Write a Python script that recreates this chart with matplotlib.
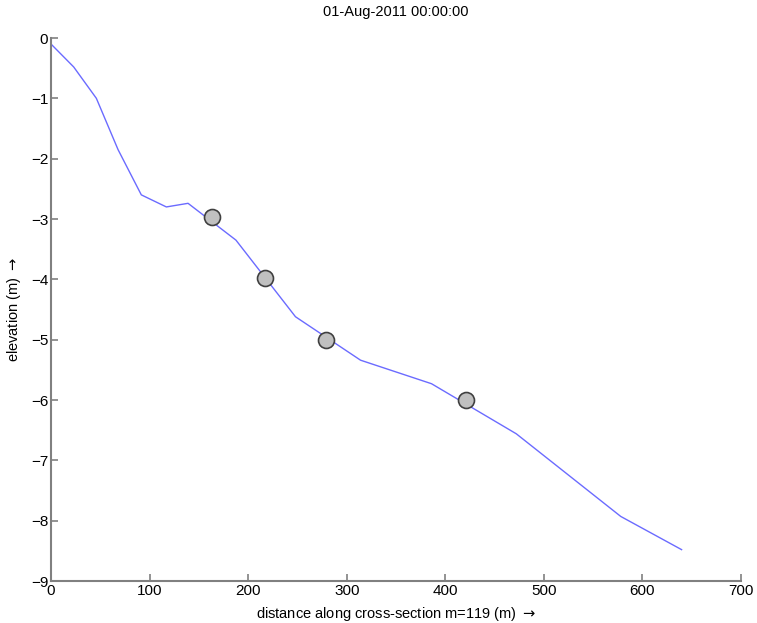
import matplotlib
matplotlib.use('Agg')
import matplotlib.pyplot as plt

plt.rcParams['font.family'] = ['Liberation Sans', 'DejaVu Sans']

# cross-section profile
dist = [0, 23, 46, 68, 91.6, 117, 139, 187.6, 248, 314, 386, 472, 578, 639.7]
elev = [-0.1, -0.48, -1.0, -1.85, -2.6, -2.80, -2.74, -3.35, -4.62, -5.34, -5.73, -6.56, -7.93, -8.48]

# depth markers
mark_dist = [163.3, 217.2, 279, 420.5]
mark_elev = [-2.96, -3.97, -5.0, -6.0]

title = '01-Aug-2011 00:00:00'

fig = plt.figure(figsize=(7.57, 6.23), dpi=100)
ax = fig.add_axes([0.0674, 0.0674, 0.9115, 0.8716])

ax.plot(dist, elev, color='#6b6bff', lw=1.0)
ax.plot(mark_dist, mark_elev, 'o', ms=11.5, mfc='#c0c0c0', mec='#404040', mew=1.2)

ax.set_xlim(0, 700)
ax.set_ylim(-9, 0)
ax.set_xticks(range(0, 701, 100))
ax.set_yticks(range(-9, 1))

for s in ['top', 'right']:
    ax.spines[s].set_visible(False)
for s in ['left', 'bottom']:
    ax.spines[s].set_color('#808080')
    ax.spines[s].set_linewidth(1.5)
ax.tick_params(direction='in', length=5, width=1.2, color='#808080',
               labelsize=11, pad=2)

ax.set_title(title, fontsize=10.5, pad=16)
ax.set_xlabel(r'distance along cross-section m=119 (m) $\rightarrow$', fontsize=10.5, labelpad=5)
ax.set_ylabel(r'elevation (m) $\rightarrow$', fontsize=10.5, labelpad=6)

fig.savefig('out.png', dpi=100)
